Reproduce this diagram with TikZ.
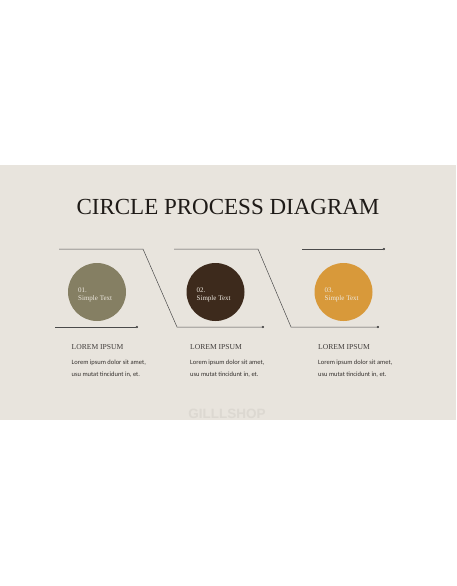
\documentclass[tikz,border=0pt]{standalone}
\usepackage{fontspec}
\setmainfont{Liberation Serif}
\newfontfamily\bodyfont{Carlito}
\newfontfamily\markfont{Liberation Sans}
\usetikzlibrary{arrows.meta}
\definecolor{slidebg}{HTML}{E8E4DD}
\definecolor{inkdark}{HTML}{1E1A17}
\definecolor{linegray}{HTML}{4A4A4A}
\definecolor{olivecirc}{HTML}{857F63}
\definecolor{browncirc}{HTML}{3D2A1C}
\definecolor{ochrecirc}{HTML}{D8993A}
\definecolor{paletext}{HTML}{EDE8DF}
\definecolor{markgray}{HTML}{DCD8D1}
\tikzset{
  link/.style={draw=linegray, line width=0.5pt, -{Circle[length=2.2pt]}},
  bubble/.style={circle, minimum size=58pt, inner sep=0pt},
  bubbletext/.style={text=paletext, align=left, inner sep=0pt, font=\fontsize{7}{8}\selectfont},
  head/.style={text=inkdark!85, inner sep=0pt, font=\fontsize{7.6}{9}\selectfont},
  body/.style={text=inkdark!90, align=left, inner sep=0pt, font=\bodyfont\fontsize{6.5}{11.6}\selectfont}
}
\begin{document}
\begin{tikzpicture}[x=1pt,y=-1pt]
  \useasboundingbox (0,0) rectangle (456,586);
  \fill[slidebg] (0,165) rectangle (456,420);
  \node[markgray, font=\markfont\bfseries\fontsize{13.5}{14}\selectfont, inner sep=0pt, anchor=base] (mark) at (227,418) {GILLLSHOP};
  \node[inkdark, font=\fontsize{23}{26}\selectfont, inner sep=0pt, anchor=base] (title) at (228,214) {CIRCLE PROCESS DIAGRAM};
  % circles with their captions
  \foreach \x/\c/\n [count=\i] in {97/olivecirc/01.,215.5/browncirc/02.,343.5/ochrecirc/03.} {
    \node[bubble, fill=\c] (c\i) at (\x,292) {};
    \node[bubbletext, anchor=west] (t\i) at (\x-19,294.5) {\n\\Simple Text};
    \node[head, anchor=base west] (h\i) at (\x-25.5,349) {LOREM IPSUM};
    \node[body, anchor=west] (b\i) at (\x-25.5,368.5) {Lorem ipsum dolor sit amet,\\usu mutat tincidunt in, et.};
  }
  % connectors
  \coordinate (a0) at (59,249);  \coordinate (a1) at (264,327);
  \coordinate (b0) at (174,249); \coordinate (b1) at (379,327);
  \coordinate (l0) at (55,327);  \coordinate (l1) at (138,327);
  \coordinate (r0) at (302,249); \coordinate (r1) at (385,249);
  \draw[link] (a0) -- ++(84,0) -- ++(34,78) -- (a1);
  \draw[link] (b0) -- ++(84,0) -- ++(33,78) -- (b1);
  \draw[link] (l0) -- (l1);
  \draw[link] (r0) -- (r1);
\end{tikzpicture}
\end{document}
